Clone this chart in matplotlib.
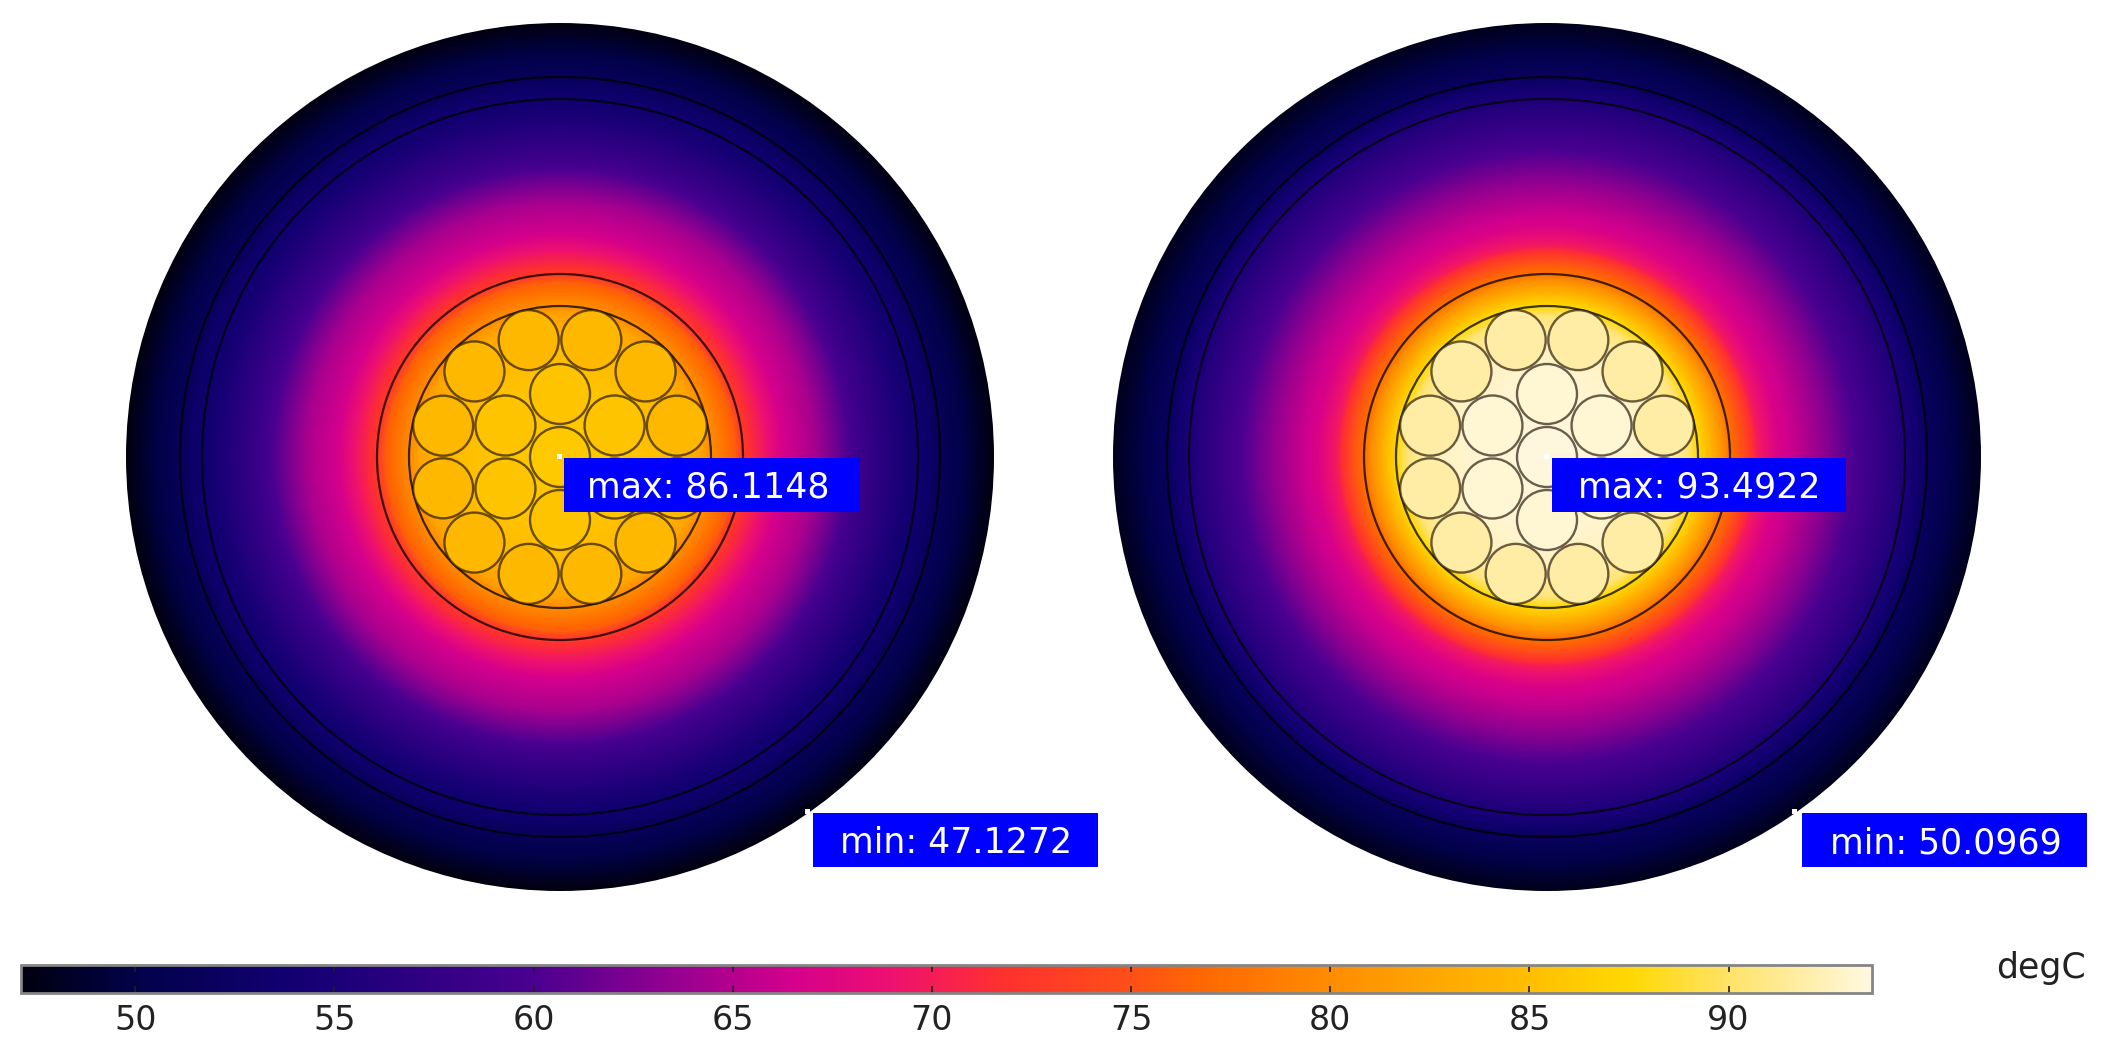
import numpy as np
import matplotlib
matplotlib.use("Agg")
import matplotlib.pyplot as plt
from matplotlib.colors import LinearSegmentedColormap, Normalize
from matplotlib.patches import Circle, Rectangle

# temperature, by radius from the cable centre (px)
radii_left = [0, 60, 110, 140, 151, 175, 183, 200, 223, 253, 273, 300, 323, 350, 368, 380, 407, 434]
temp_left = [86.1, 85.8, 84.6, 82.5, 80.0, 76.0, 72.5, 70.0, 66.5, 64.5, 62.0, 58.5, 56.5, 54.0, 53.0, 51.5, 49.5, 47.13]

radii_right = [0, 60, 110, 140, 151, 175, 183, 195, 210, 230, 250, 273, 300, 323, 350, 368, 380, 404, 420, 434]
temp_right = [93.49, 93.3, 92.6, 90.5, 87.5, 80.5, 77.5, 75.0, 70.0, 67.0, 65.5, 63.5, 60.7, 58.5, 56.0, 54.0, 52.0, 50.0, 48.8, 47.8]

strand_left = [86.0, 85.6, 84.4]  # centre, inner ring, outer ring
strand_right = [93.5, 93.2, 91.8]

max_labels = ["max: 86.1148", "max: 93.4922"]
min_labels = ["min: 47.1272", "min: 50.0969"]
bar_ticks = [50, 55, 60, 65, 70, 75, 80, 85, 90]
t_min = 47.13
t_max = 93.6

color_stops = [
    (47.13, "#00000f"), (50, "#02024a"), (53.5, "#10006e"), (55, "#1b0078"),
    (60, "#4a0090"), (63, "#8a0090"), (66.5, "#d4008c"), (69, "#ee1070"),
    (71.7, "#ff3030"), (75, "#ff4f18"), (77, "#ff6a00"), (80, "#ff8c00"),
    (85, "#ffbe00"), (87.5, "#ffd800"), (90, "#ffe266"), (93.6, "#fff8e0"),
]
cmap = LinearSegmentedColormap.from_list(
    "comsol", [((t - t_min) / (t_max - t_min), c) for t, c in color_stops], N=512)
norm = Normalize(t_min, t_max)

fig = plt.figure(figsize=(21.13, 10.59), dpi=100)
ax = fig.add_axes([0, 0, 1, 1])
ax.axis("off")

line_col = (0, 0, 0, 0.75)
strand_line = (0.1, 0.05, 0, 0.65)


def draw_cable(cx, cy, radii, temps, strands, max_text, min_text, max_box, min_box, max_shift):
    xs = np.arange(-434, 435)
    xx, yy = np.meshgrid(xs, xs)
    field = np.interp(np.hypot(xx, yy), radii, temps)
    mesh = ax.imshow(field, extent=(cx - 434.5, cx + 434.5, cy + 434.5, cy - 434.5),
                     cmap=cmap, norm=norm, aspect="auto", interpolation="bilinear", zorder=1)
    mesh.set_clip_path(Circle((cx, cy), 434, transform=ax.transData))

    # sheath and insulation rings
    for r in [380, 358, 183, 151]:
        ax.add_patch(Circle((cx, cy), r, fill=False, ec=line_col, lw=1.6, zorder=2))

    # conductor strands: 1 + 6 + 12
    ax.add_patch(Circle((cx, cy), 30, fc=cmap(norm(strands[0])), ec=strand_line, lw=1.7, zorder=3))
    for a in np.arange(30, 360, 60):
        x = cx + 63 * np.cos(np.radians(a))
        y = cy + 63 * np.sin(np.radians(a))
        ax.add_patch(Circle((x, y), 30, fc=cmap(norm(strands[1])), ec=strand_line, lw=1.7, zorder=3))
    for a in np.arange(15, 360, 30):
        x = cx + 121 * np.cos(np.radians(a))
        y = cy + 121 * np.sin(np.radians(a))
        ax.add_patch(Circle((x, y), 30, fc=cmap(norm(strands[2])), ec=strand_line, lw=1.7, zorder=3))

    ax.add_patch(Rectangle((cx - 3, cy - 3), 5, 5, fc="white", ec="none", zorder=4))
    ax.add_patch(Rectangle((cx + 245, cy + 352), 5, 5, fc="white", ec="none", zorder=4))

    ax.add_patch(Rectangle(max_box[:2], max_box[2], max_box[3], fc="#0000ff", ec="none", zorder=5))
    ax.text(max_box[0] + max_box[2] / 2 + max_shift, max_box[1] + max_box[3] / 2 + 2, max_text,
            color="white", fontsize=25, ha="center", va="center", zorder=6)
    ax.add_patch(Rectangle(min_box[:2], min_box[2], min_box[3], fc="#0000ff", ec="none", zorder=5))
    ax.text(min_box[0] + min_box[2] / 2 + 1, min_box[1] + min_box[3] / 2 + 3, min_text,
            color="white", fontsize=25, ha="center", va="center", zorder=6)
    return mesh


mesh = draw_cable(560, 457, radii_left, temp_left, strand_left, max_labels[0], min_labels[0],
                  (564, 458, 296, 54), (813, 813, 285, 54), -4)
draw_cable(1547, 457, radii_right, temp_right, strand_right, max_labels[1], min_labels[1],
           (1552, 458, 294, 54), (1802, 813, 285, 54), 0)

ax.set_xlim(0, 2113)
ax.set_ylim(1059, 0)

cax = fig.add_axes([21 / 2113, 1 - 993 / 1059, (1872 - 21) / 2113, 28 / 1059])
cb = fig.colorbar(mesh, cax=cax, orientation="horizontal", ticks=bar_ticks)
cb.outline.set_edgecolor("#858585")
cb.outline.set_linewidth(2)
cax.tick_params(axis="x", direction="in", length=5, width=1.2, color="#202020",
                labelsize=24, labelcolor="#222222", pad=8, top=True)

ax.text(2086, 968, "degC", fontsize=25, color="#222222", ha="right", va="center")

fig.savefig("out.png", dpi=100)
